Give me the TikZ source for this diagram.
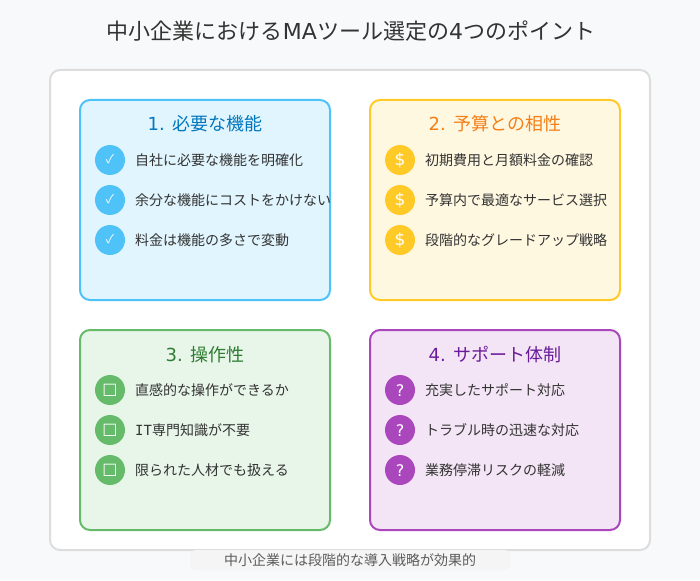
\documentclass[tikz,border=0pt]{standalone}
\usepackage{fontspec}
\setmainfont{Noto Sans CJK JP}
\newfontfamily\symfont{DejaVu Sans}
\newfontfamily\monofont{DejaVu Sans Mono}
\usetikzlibrary{positioning}
\definecolor{pagebg}{HTML}{F8F9FA}
\definecolor{frameline}{HTML}{DDDDDD}
\definecolor{notebg}{HTML}{F5F5F5}
\definecolor{inktext}{HTML}{333333}
\definecolor{blueA}{HTML}{E1F5FE}
\definecolor{blueB}{HTML}{4FC3F7}
\definecolor{blueC}{HTML}{0277BD}
\definecolor{amberA}{HTML}{FFF8E1}
\definecolor{amberB}{HTML}{FFCA28}
\definecolor{amberC}{HTML}{F57F17}
\definecolor{greenA}{HTML}{E8F5E9}
\definecolor{greenB}{HTML}{66BB6A}
\definecolor{greenC}{HTML}{2E7D32}
\definecolor{purpleA}{HTML}{F3E5F5}
\definecolor{purpleB}{HTML}{AB47BC}
\definecolor{purpleC}{HTML}{6A1B9A}
\newcommand{\fsz}[1]{\fontsize{#1}{#1}\selectfont}

\begin{document}
\begin{tikzpicture}[
    x=1pt, y=-1pt,
    frame/.style={rectangle, draw=frameline, line width=2pt, fill=white, rounded corners=10pt, outer sep=0pt, minimum width=600pt, minimum height=480pt},
    card/.style={rectangle, line width=2pt, rounded corners=10pt, outer sep=0pt, minimum width=250pt, minimum height=200pt},
    head/.style={anchor=base, inner sep=0pt, font=\fsz{18}},
    dot/.style={circle, inner sep=0pt, outer sep=0pt, minimum size=30pt},
    tick/.style={anchor=base, inner sep=0pt, text=white, font=\fsz{12}},
    coin/.style={anchor=base, inner sep=0pt, text=white, font=\symfont\fsz{17}},
    square/.style={anchor=base, inner sep=0pt, text=white, font=\symfont\fsz{16}},
    query/.style={anchor=base, inner sep=0pt, text=white, font=\symfont\fsz{16}},
    item/.style={anchor=base west, inner sep=0pt, text=inktext, font=\fsz{14}}
]
    \useasboundingbox (0,0) rectangle (700,580);
    \fill[pagebg] (0,0) rectangle (700,580);
    \node[anchor=base, inner sep=0pt, text=inktext, font=\fsz{22}] (title) at (351,40) {中小企業における{\symfont MA}ツール選定の{\symfont 4}つのポイント};
    \node[frame] (main) at (350,310) {};

    % 1
    \node[card, draw=blueB, fill=blueA] (cardA) at (205,200) {};
    \node[head, text=blueC] (headA) at (205,131) {{\symfont 1. }必要な機能};
    \node[dot, fill=blueB] (dotA1) at (110,160) {};
    \node[dot, fill=blueB] (dotA2) at (110,200) {};
    \node[dot, fill=blueB] (dotA3) at (110,240) {};
    \node[tick] (tickA1) at (110,163) {✓};
    \node[tick] (tickA2) at (110,203) {✓};
    \node[tick] (tickA3) at (110,243) {✓};
    \node[item] (itemA1) at (135,165) {自社に必要な機能を明確化};
    \node[item] (itemA2) at (135,205) {余分な機能にコストをかけない};
    \node[item] (itemA3) at (135,245) {料金は機能の多さで変動};

    % 2
    \node[card, draw=amberB, fill=amberA] (cardB) at (495,200) {};
    \node[head, text=amberC] (headB) at (495,131) {{\symfont 2. }予算との相性};
    \node[dot, fill=amberB] (dotB1) at (400,160) {};
    \node[dot, fill=amberB] (dotB2) at (400,200) {};
    \node[dot, fill=amberB] (dotB3) at (400,240) {};
    \node[coin] (coinB1) at (400,165) {\$};
    \node[coin] (coinB2) at (400,205) {\$};
    \node[coin] (coinB3) at (400,245) {\$};
    \node[item] (itemB1) at (425,165) {初期費用と月額料金の確認};
    \node[item] (itemB2) at (425,205) {予算内で最適なサービス選択};
    \node[item] (itemB3) at (425,245) {段階的なグレードアップ戦略};

    % 3
    \node[card, draw=greenB, fill=greenA] (cardC) at (205,430) {};
    \node[head, text=greenC] (headC) at (205,361) {{\symfont 3. }操作性};
    \node[dot, fill=greenB] (dotC1) at (110,390) {};
    \node[dot, fill=greenB] (dotC2) at (110,430) {};
    \node[dot, fill=greenB] (dotC3) at (110,470) {};
    \node[square] (squareC1) at (110,394.5) {□};
    \node[square] (squareC2) at (110,434.5) {□};
    \node[square] (squareC3) at (110,474.5) {□};
    \node[item] (itemC1) at (135,395) {直感的な操作ができるか};
    \node[item] (itemC2) at (135,435) {{\monofont IT}専門知識が不要};
    \node[item] (itemC3) at (135,475) {限られた人材でも扱える};

    % 4
    \node[card, draw=purpleB, fill=purpleA] (cardD) at (495,430) {};
    \node[head, text=purpleC] (headD) at (495,361) {{\symfont 4. }サポート体制};
    \node[dot, fill=purpleB] (dotD1) at (400,390) {};
    \node[dot, fill=purpleB] (dotD2) at (400,430) {};
    \node[dot, fill=purpleB] (dotD3) at (400,470) {};
    \node[query] (queryD1) at (400,396) {?};
    \node[query] (queryD2) at (400,436) {?};
    \node[query] (queryD3) at (400,476) {?};
    \node[item] (itemD1) at (425,395) {充実したサポート対応};
    \node[item] (itemD2) at (425,435) {トラブル時の迅速な対応};
    \node[item] (itemD3) at (425,475) {業務停滞リスクの軽減};

    \node[rectangle, fill=notebg, rounded corners=5pt, outer sep=0pt, minimum width=320pt, minimum height=20pt] (noteback) at (350,560) {};
    \node[anchor=base, inner sep=0pt, text=inktext!80, font=\fsz{14}] (note) at (350,565) {中小企業には段階的な導入戦略が効果的};
\end{tikzpicture}
\end{document}
